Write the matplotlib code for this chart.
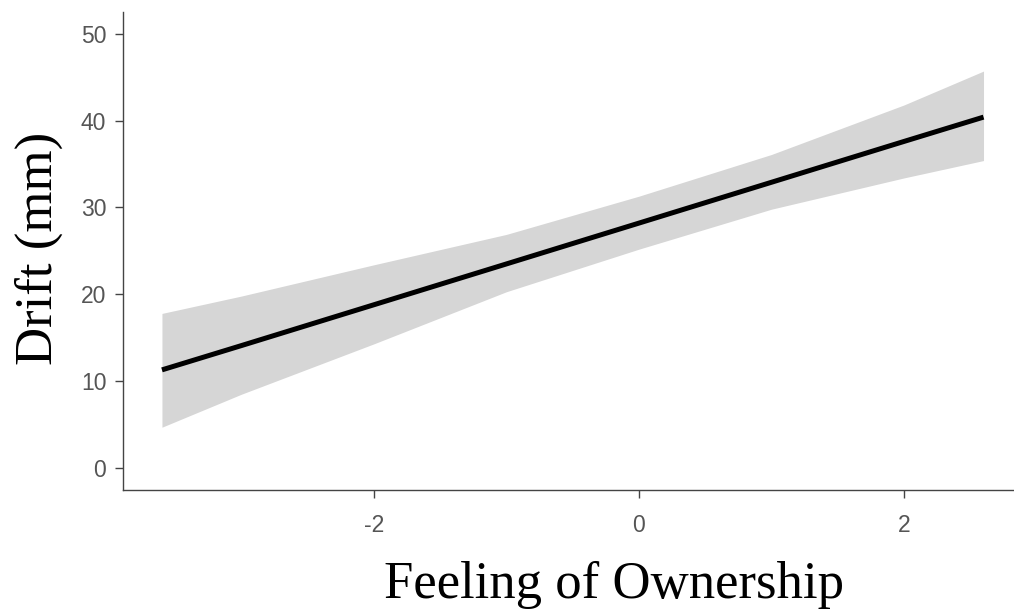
import numpy as np
import matplotlib.pyplot as plt

plt.rcParams['axes.unicode_minus'] = False

# Fitted drift against feeling of ownership, with 95% band
ownership = [-3.6, -3.0, -2.0, -1.0, 0.0, 1.0, 2.0, 2.6]
drift_fit = [11.3, 14.1, 18.8, 23.5, 28.2, 32.9, 37.6, 40.4]
drift_lo = [4.7, 8.5, 14.3, 20.3, 25.2, 29.8, 33.4, 35.4]
drift_hi = [17.8, 19.8, 23.4, 26.9, 31.3, 36.1, 41.8, 45.7]

x_ticks = [-2, 0, 2]
y_ticks = [0, 10, 20, 30, 40, 50]

fig = plt.figure(figsize=(10.14, 6.10), dpi=100)
ax = fig.add_axes([0.1213, 0.1967, 0.8787, 0.7836])

ax.fill_between(ownership, drift_lo, drift_hi, color='#D6D6D6', linewidth=0)
ax.plot(ownership, drift_fit, color='black', linewidth=3.6, solid_capstyle='butt')

ax.set_xlim(-3.894, 2.83)
ax.set_ylim(-2.53, 52.5)
ax.set_xticks(x_ticks)
ax.set_yticks(y_ticks)

for side in ['top', 'right']:
    ax.spines[side].set_visible(False)
for side in ['left', 'bottom']:
    ax.spines[side].set_color('#444444')
    ax.spines[side].set_linewidth(1.0)

ax.tick_params(axis='both', colors='#444444', length=6, width=1.0,
               labelcolor='#555555', labelsize=16.5)
ax.tick_params(axis='x', pad=11)
ax.tick_params(axis='y', pad=6)
for lab in ax.get_xticklabels() + ax.get_yticklabels():
    lab.set_family('Liberation Sans')

ax.set_ylabel('Drift (mm)', family='Liberation Serif', fontsize=38)
ax.yaxis.set_label_coords(-0.095, 0.506)
ax.yaxis.label.set_va('center')

fig.text(614 / 1014, 12 / 610, 'Feeling of Ownership', family='Liberation Serif',
         fontsize=38, ha='center', va='baseline')

fig.savefig('out.png', dpi=100)
